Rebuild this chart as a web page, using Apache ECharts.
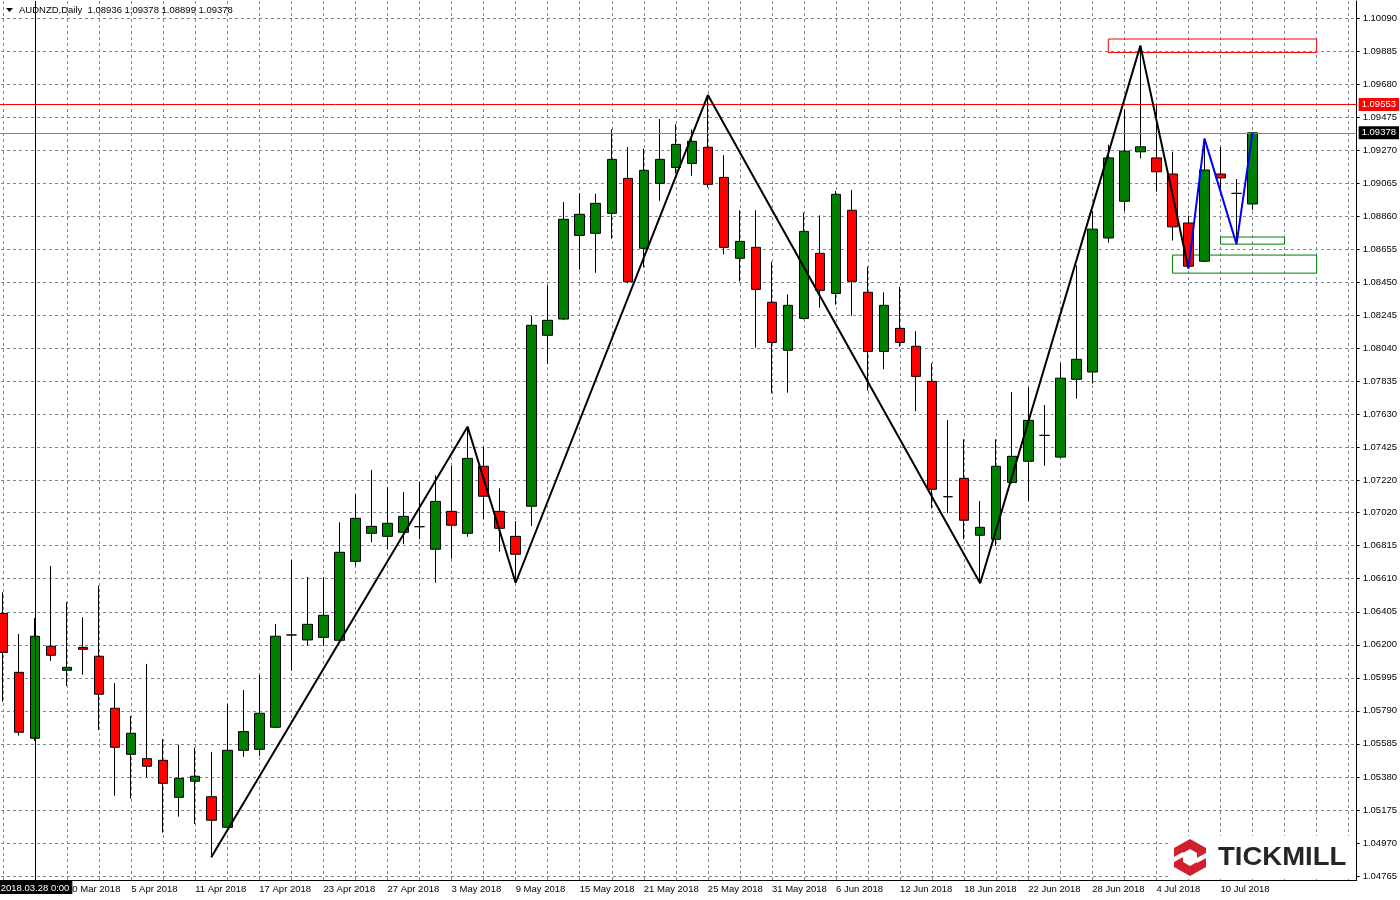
<!DOCTYPE html>
<html><head><meta charset="utf-8">
<script src="https://cdn.jsdelivr.net/npm/echarts@6/dist/echarts.min.js"></script>
<style>html,body{margin:0;padding:0;background:#fff;overflow:hidden}#c{position:absolute;left:-5px;top:0;width:1405px;height:900px}</style>
</head><body><div id="c"></div>
<script>
// ---- data ----
const dates = ['26 Mar 2018','27 Mar 2018','28 Mar 2018','29 Mar 2018','30 Mar 2018',
 '2 Apr 2018','3 Apr 2018','4 Apr 2018','5 Apr 2018','6 Apr 2018','9 Apr 2018','10 Apr 2018','11 Apr 2018','12 Apr 2018','13 Apr 2018',
 '16 Apr 2018','17 Apr 2018','18 Apr 2018','19 Apr 2018','20 Apr 2018','23 Apr 2018','24 Apr 2018','25 Apr 2018','26 Apr 2018','27 Apr 2018','30 Apr 2018',
 '1 May 2018','2 May 2018','3 May 2018','4 May 2018','7 May 2018','8 May 2018','9 May 2018','10 May 2018','11 May 2018',
 '14 May 2018','15 May 2018','16 May 2018','17 May 2018','18 May 2018','21 May 2018','22 May 2018','23 May 2018','24 May 2018','25 May 2018',
 '28 May 2018','29 May 2018','30 May 2018','31 May 2018','1 Jun 2018','4 Jun 2018','5 Jun 2018','6 Jun 2018','7 Jun 2018','8 Jun 2018',
 '11 Jun 2018','12 Jun 2018','13 Jun 2018','14 Jun 2018','15 Jun 2018','18 Jun 2018','19 Jun 2018','20 Jun 2018','21 Jun 2018','22 Jun 2018',
 '25 Jun 2018','26 Jun 2018','27 Jun 2018','28 Jun 2018','29 Jun 2018','2 Jul 2018','3 Jul 2018','4 Jul 2018','5 Jul 2018','6 Jul 2018',
 '9 Jul 2018','10 Jul 2018','11 Jul 2018','12 Jul 2018'];
const futureDates = ['13 Jul 2018','16 Jul 2018','17 Jul 2018','18 Jul 2018','19 Jul 2018','20 Jul 2018'];

const opens = [1.06395,1.06029,1.05620,1.06191,1.06042,1.06184,1.06129,1.05806,1.05520,1.05493,
 1.05483,1.05253,1.05353,1.05257,1.05067,1.05545,1.05551,1.05688,1.06261,1.06230,
 1.06246,1.06228,1.06718,1.06892,1.06873,1.06898,1.06933,1.06793,1.07028,1.06892,
 1.07308,1.07028,1.06873,1.07060,1.08121,1.08222,1.08741,1.08754,1.08878,1.09095,
 1.08661,1.09064,1.09163,1.09188,1.09288,1.09101,1.08599,1.08667,1.08326,1.08028,
 1.08226,1.08630,1.08381,1.08897,1.08388,1.08021,1.08164,1.08053,1.07835,1.07119,
 1.07233,1.06880,1.06855,1.07208,1.07339,1.07500,1.07365,1.07848,1.07893,1.08725,
 1.08953,1.09260,1.09222,1.09122,1.08818,1.08581,1.09122,1.09002,1.08936];
const highs = [1.06526,1.06267,1.06366,1.06689,1.06464,1.06371,1.06567,1.05961,1.05758,1.06081,
 1.05615,1.05580,1.05561,1.05535,1.05833,1.05919,1.06013,1.06329,1.06726,1.06621,
 1.06619,1.06960,1.07134,1.07285,1.07177,1.07148,1.07210,1.07252,1.07310,1.07554,
 1.07429,1.07171,1.06968,1.08241,1.08429,1.08948,1.09002,1.09000,1.09399,1.09289,
 1.09279,1.09463,1.09430,1.09399,1.09612,1.09238,1.08897,1.08897,1.08578,1.08375,
 1.08882,1.08865,1.09016,1.09023,1.08547,1.08388,1.08422,1.08146,1.07947,1.07595,
 1.07475,1.07092,1.07475,1.07769,1.07796,1.07688,1.07948,1.08554,1.08891,1.09304,
 1.09522,1.09919,1.09553,1.09260,1.08864,1.09342,1.09291,1.09091,1.09378];
const lows = [1.05847,1.05636,1.05603,1.06101,1.05944,1.06014,1.05671,1.05263,1.05245,1.05379,
 1.05034,1.05133,1.05088,1.04881,1.05063,1.05505,1.05510,1.05683,1.06039,1.06194,
 1.06192,1.06225,1.06691,1.06836,1.06794,1.06825,1.06855,1.06585,1.06734,1.06871,
 1.06981,1.06778,1.06585,1.06937,1.07943,1.08215,1.08528,1.08509,1.08720,1.08443,
 1.08543,1.08956,1.09126,1.09111,1.09039,1.08623,1.08456,1.08044,1.07761,1.07765,
 1.08220,1.08292,1.08311,1.08242,1.07777,1.07910,1.08050,1.07649,1.07047,1.07016,
 1.06855,1.06582,1.06813,1.07200,1.07092,1.07311,1.07360,1.07728,1.07822,1.08696,
 1.08893,1.09219,1.09013,1.08709,1.08536,1.08575,1.09020,1.08687,1.08899];
const closes = [1.06153,1.05657,1.06253,1.06135,1.06060,1.06172,1.05893,1.05564,1.05651,1.05446,
 1.05340,1.05371,1.05384,1.05111,1.05545,1.05661,1.05775,1.06253,1.06261,1.06327,
 1.06383,1.06774,1.06985,1.06935,1.06954,1.06997,1.06933,1.07090,1.06942,1.07357,
 1.07122,1.06923,1.06762,1.08183,1.08214,1.08841,1.08872,1.08940,1.09213,1.08453,
 1.09145,1.09213,1.09306,1.09325,1.09058,1.08667,1.08704,1.08406,1.08077,1.08307,
 1.08766,1.08400,1.08996,1.08456,1.08021,1.08307,1.08077,1.07866,1.07165,1.07119,
 1.06973,1.06929,1.07308,1.07370,1.07593,1.07500,1.07855,1.07972,1.08780,1.09222,
 1.09264,1.09291,1.09136,1.08794,1.08550,1.09147,1.09098,1.09002,1.09378];

const yTickValues = [1.04765,1.04970,1.05175,1.05380,1.05585,1.05790,1.05995,1.06200,1.06405,1.06610,
 1.06815,1.07020,1.07220,1.07425,1.07630,1.07835,1.08040,1.08245,1.08450,1.08655,1.08860,1.09065,
 1.09270,1.09475,1.09680,1.09885,1.10090];

const zigzagDates = ['12 Apr 2018','4 May 2018','9 May 2018','25 May 2018','19 Jun 2018','3 Jul 2018','6 Jul 2018'];
const zigzagPrices = [1.04881,1.07554,1.06585,1.09612,1.06582,1.09919,1.08536];
const zigzag2Dates = ['6 Jul 2018','9 Jul 2018','11 Jul 2018','12 Jul 2018'];
const zigzag2Prices = [1.08536,1.09342,1.08687,1.09378];

const resistanceLevel = 1.09553;
const bidPrice = 1.09378;
const verticalLineDate = '28 Mar 2018';
const verticalLineLabel = '2018.03.28 0:00';
const titleText = 'AUDNZD,Daily  1.08936 1.09378 1.08899 1.09378';

const rectTop = [['29 Jun 2018', 1.09960], ['18 Jul 2018', 1.09876]];
const rectLowBig = [['5 Jul 2018', 1.08619], ['18 Jul 2018', 1.08507]];
const rectLowSmall = [['10 Jul 2018', 1.08731], ['16 Jul 2018', 1.08687]];

// ---- chart ----
const FONT = 'Liberation Sans';
const OX = 5; // page offset of the chart container (container starts at x = -5)
const allCats = dates.concat(futureDates);
const candleData = dates.map((d, i) => [opens[i], closes[i], lows[i], highs[i]]);
const lastIdx = dates.length - 1;

const chart = echarts.init(document.getElementById('c'), null, {renderer: 'canvas'});
const gridStyle = {color: '#778899', width: 1, type: [3, 3]};
const priceLabel = (bg) => ({show: true, position: 'end', distance: 2, formatter: (p) => Number(p.value).toFixed(5),
  backgroundColor: bg, color: '#fff', fontFamily: FONT, fontSize: 9.5, padding: [2, 3, 1, 3]});

chart.setOption({
  animation: false,
  backgroundColor: '#ffffff',
  textStyle: {fontFamily: FONT},
  grid: {left: 0, right: 43, top: 1, bottom: 20, containLabel: false},
  xAxis: {
    type: 'category',
    data: allCats,
    boundaryGap: true,
    axisLine: {show: true, lineStyle: {color: '#000', width: 1}},
    axisTick: {show: false},
    axisLabel: {
      show: true, color: '#000', fontFamily: FONT, fontSize: 9.5, align: 'left', margin: 4,
      interval: (i) => i >= 4 && i <= lastIdx && i % 4 === 0
    },
    splitLine: {show: true, alignWithLabel: true, interval: (i) => i % 2 === 0, lineStyle: gridStyle}
  },
  yAxis: {
    type: 'value',
    position: 'right',
    min: 1.04740,
    max: 1.10196,
    scale: true,
    axisLine: {show: true, onZero: false, lineStyle: {color: '#000', width: 1}},
    axisTick: {show: true, length: 3, customValues: yTickValues, lineStyle: {color: '#000'}},
    axisLabel: {show: true, customValues: yTickValues, color: '#000', fontFamily: FONT, fontSize: 9.5, margin: 6,
      formatter: (v) => v.toFixed(5)},
    splitLine: {show: true, lineStyle: gridStyle}
  },
  series: [
    {
      type: 'candlestick',
      data: candleData,
      barWidth: 10,
      clip: true,
      itemStyle: {color: '#008000', color0: '#ff0000', borderColor: '#000', borderColor0: '#000',
        borderColorDoji: '#000', borderWidth: 1},
      markLine: {
        silent: true, symbol: 'none', animation: false, precision: 5,
        data: [
          {yAxis: resistanceLevel, lineStyle: {color: '#ff0000', width: 1, type: 'solid'}, label: priceLabel('#ff0000')},
          {yAxis: bidPrice, lineStyle: {color: '#778899', width: 1, type: 'solid'}, label: priceLabel('#000')},
          {xAxis: verticalLineDate, lineStyle: {color: '#000', width: 1, type: 'solid'},
           label: {show: true, position: 'start', distance: 1, formatter: verticalLineLabel,
             backgroundColor: '#000', color: '#fff', fontFamily: FONT, fontSize: 9.5, padding: [2, 3, 1, 3]}}
        ]
      },
      markArea: {
        silent: true, precision: 5,
        data: [
          [{coord: rectTop[0], itemStyle: {color: 'rgba(0,0,0,0)', borderColor: '#ff0000', borderWidth: 1}}, {coord: rectTop[1]}],
          [{coord: rectLowBig[0], itemStyle: {color: 'rgba(0,0,0,0)', borderColor: '#008000', borderWidth: 1}}, {coord: rectLowBig[1]}],
          [{coord: rectLowSmall[0], itemStyle: {color: 'rgba(0,0,0,0)', borderColor: '#008000', borderWidth: 1}}, {coord: rectLowSmall[1]}]
        ]
      }
    },
    {
      type: 'line', data: zigzagDates.map((d, i) => [d, zigzagPrices[i]]),
      symbol: 'none', lineStyle: {color: '#000', width: 2}, z: 5, silent: true
    },
    {
      type: 'line', data: zigzag2Dates.map((d, i) => [d, zigzag2Prices[i]]),
      symbol: 'none', lineStyle: {color: '#0000ff', width: 2}, z: 5, silent: true
    }
  ],
  graphic: [
    {type: 'polygon', shape: {points: [[6 + OX, 8], [13 + OX, 8], [9.5 + OX, 12]]}, style: {fill: '#000'}, z: 100},
    {type: 'text', left: 19 + OX, top: 5, style: {text: titleText, fill: '#000', font: '9.5px "Liberation Sans"'}, z: 100},
    // logo
    {type: 'rect', shape: {x: 1170 + OX, y: 836, width: 186, height: 43}, style: {fill: '#fff'}, z: 100},
    {type: 'group', x: OX, y: 0, z: 101, children: [
      {type: 'polygon', shape: {points: [[1190, 839], [1206, 848], [1206, 867], [1190, 876], [1174, 867], [1174, 848]]},
        style: {fill: '#d0202e'}, z: 101},
      {type: 'polygon', shape: {points: [[1190, 849], [1197, 853], [1197, 862], [1190, 866], [1183, 862], [1183, 853]]},
        style: {fill: '#fff'}, z: 102},
      {type: 'polygon', shape: {points: [[1172, 858], [1183, 852], [1185, 856], [1174, 862]]}, style: {fill: '#fff'}, z: 102},
      {type: 'polygon', shape: {points: [[1208, 857], [1197, 863], [1195, 859], [1206, 853]]}, style: {fill: '#fff'}, z: 102},
      {type: 'text', x: 1218, y: 846, scaleX: 1.1, style: {text: 'TICKMILL', fill: '#262626', font: 'bold 25px "Liberation Sans"'}, z: 101}
    ]}
  ]
});
</script>
</body></html>
